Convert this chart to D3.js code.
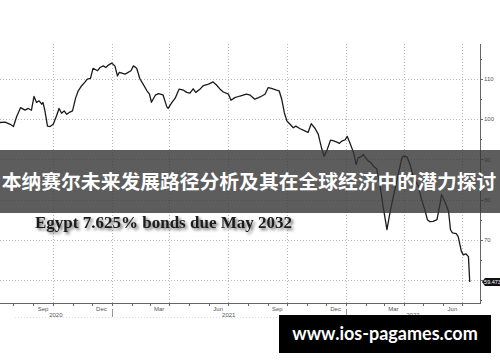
<!DOCTYPE html>
<html><head><meta charset="utf-8">
<script src="https://cdn.jsdelivr.net/npm/d3@7"></script>
<style>
html,body{margin:0;padding:0;background:#fff;}
svg{display:block;}
</style></head>
<body>
<svg id="chart" width="500" height="362"></svg>
<script>
const titleText = "Egypt 7.625% bonds due May 2032";
const bannerText = "本纳赛尔未来发展路径分析及其在全球经济中的潜力探讨";
const watermarkText = "www.ios-pagames.com";
const lastValueLabel = "59.473";

const dates = ["2020-07-11","2020-07-19","2020-07-27","2020-08-01","2020-08-06","2020-08-12","2020-08-19","2020-08-24","2020-08-29","2020-09-02","2020-09-06","2020-09-10","2020-09-14","2020-09-16","2020-09-19","2020-09-23","2020-09-27","2020-10-02","2020-10-07","2020-10-11","2020-10-15","2020-10-19","2020-10-23","2020-10-28","2020-11-01","2020-11-06","2020-11-10","2020-11-15","2020-11-20","2020-11-24","2020-11-29","2020-12-03","2020-12-10","2020-12-14","2020-12-19","2020-12-23","2020-12-27","2021-01-01","2021-01-06","2021-01-10","2021-01-13","2021-01-22","2021-01-31","2021-02-04","2021-02-09","2021-02-14","2021-02-19","2021-02-25","2021-03-01","2021-03-04","2021-03-10","2021-03-15","2021-03-22","2021-03-28","2021-03-30","2021-04-05","2021-04-10","2021-04-16","2021-04-23","2021-04-28","2021-05-03","2021-05-08","2021-05-12","2021-05-18","2021-05-24","2021-06-01","2021-06-08","2021-06-13","2021-06-19","2021-06-24","2021-07-02","2021-07-06","2021-07-12","2021-07-20","2021-07-30","2021-08-05","2021-08-12","2021-08-18","2021-08-23","2021-08-28","2021-09-02","2021-09-07","2021-09-15","2021-09-19","2021-09-23","2021-09-27","2021-10-01","2021-10-06","2021-10-11","2021-10-15","2021-10-21","2021-10-29","2021-11-03","2021-11-08","2021-11-14","2021-11-19","2021-11-24","2021-11-28","2021-12-03","2021-12-08","2021-12-13","2021-12-18","2021-12-22","2021-12-25","2021-12-31","2022-01-03","2022-01-07","2022-01-13","2022-01-17","2022-01-20","2022-01-26","2022-01-28","2022-02-01","2022-02-05","2022-02-09","2022-02-13","2022-02-18","2022-02-23","2022-02-28","2022-03-06","2022-03-11","2022-03-16","2022-03-21","2022-03-29","2022-03-31","2022-04-06","2022-04-11","2022-04-16","2022-04-24","2022-04-29","2022-05-04","2022-05-08","2022-05-12","2022-05-17","2022-05-23","2022-05-28","2022-05-30","2022-06-04","2022-06-10","2022-06-13","2022-06-16","2022-06-22","2022-06-25","2022-06-30","2022-07-03","2022-07-07","2022-07-11","2022-07-13"];
const prices = [99.2,99.3,98.75,98.2,100.7,102.9,102.3,102.7,102.25,105.7,104.2,104.6,103.75,104.2,102.1,98.3,98.2,98.75,100.8,102.7,101.5,102.1,101.25,101.8,102.1,105.4,107.1,108.3,109.2,110,110.2,112.7,112.1,112.9,113.3,112.9,113.5,114,113.3,110.8,111.7,111.25,112.1,113.3,112.7,110.1,108.75,107.1,106.25,104.25,106,106.4,106.1,103.1,102.7,104.2,105.25,107.5,107.25,106.7,106.5,107.6,106.7,107.4,108.4,108.75,109.3,108.6,107.5,106.8,106.25,104.75,105.4,105.8,106.25,106,105,105.4,105.8,106.25,107.9,107.7,107.25,107.1,105,101.7,99.6,98.75,97.9,98.3,97.7,97.1,96.7,98.9,97.7,96.25,92.9,90.75,92.5,94.8,94.6,94.3,94,94.5,94.9,95.75,94.2,91.7,88.75,90.4,90.8,91.25,90.4,89.6,89.2,88.3,87.7,83.75,78.3,72.5,77,80.8,84.2,90.25,90.8,90.7,88.75,85.8,83.3,80,77.5,75,74.5,74.6,75,79.2,81.25,79.6,77.1,72.5,71.7,71.5,70.8,67.1,66.25,66.5,65.8,59.473];

const yMajorTicks = [60,70,80,90,100,110];
const yMinorTicks = [55,65,75,85,95,105,115];
const monthLabels = ["Sep","Dec","Mar","Jun","Sep","Dec","Mar","Jun"];
const yearLabels = ["2020","2021","2022"];

const svg = d3.select("#chart");
const W = 500, H = 362;
const plot = {left:0, right:480, top:44, bottom:303};
const parse = d3.utcParse("%Y-%m-%d");
const data = dates.map((d,i)=>({date:parse(d), value:prices[i]}));

const x = d3.scaleUtc().domain([parse("2020-07-11"), parse("2022-07-29")]).range([plot.left, plot.right]);
const y = d3.scaleLinear().domain([54.25, 118.75]).range([plot.bottom, plot.top]);

// gridlines
const gridColor = "#b8b8b8";
const hg = svg.append("g");
hg.selectAll("line").data(yMajorTicks).join("line")
  .attr("x1", plot.left).attr("x2", plot.right)
  .attr("y1", d=>Math.round(y(d))+0.5).attr("y2", d=>Math.round(y(d))+0.5)
  .attr("stroke", gridColor).attr("stroke-width",1).attr("stroke-dasharray","1,2");
const quarterStarts = d3.utcMonth.range(parse("2020-07-11"), parse("2022-07-29")).filter(d=>d.getUTCMonth()%3===0);
hg.append("g").selectAll("line").data(quarterStarts).join("line")
  .attr("x1", d=>Math.round(x(d))+0.5).attr("x2", d=>Math.round(x(d))+0.5)
  .attr("y1", plot.top).attr("y2", plot.bottom)
  .attr("stroke", gridColor).attr("stroke-width",1).attr("stroke-dasharray","1,2");

// line
const line = d3.line().x(d=>x(d.date)).y(d=>y(d.value));
svg.append("path").datum(data).attr("d", line)
  .attr("fill","none").attr("stroke","#1a1a1a").attr("stroke-width",1.3).attr("stroke-linejoin","round");

// right axis
const axColor = "#666";
svg.append("line").attr("x1",plot.right+0.5).attr("x2",plot.right+0.5).attr("y1",plot.top).attr("y2",plot.bottom)
  .attr("stroke",axColor).attr("stroke-width",1);
const ra = svg.append("g").attr("transform",`translate(${plot.right},0)`);
ra.selectAll("line.maj").data(yMajorTicks).join("line").attr("class","maj")
  .attr("x1",0).attr("x2",3).attr("y1",d=>Math.round(y(d))+0.5).attr("y2",d=>Math.round(y(d))+0.5)
  .attr("stroke",axColor);
ra.selectAll("line.min").data(yMinorTicks).join("line").attr("class","min")
  .attr("x1",0).attr("x2",2).attr("y1",d=>Math.round(y(d))+0.5).attr("y2",d=>Math.round(y(d))+0.5)
  .attr("stroke",axColor);
ra.selectAll("text").data(yMajorTicks.filter(d=>d!==60)).join("text")
  .attr("x",4).attr("y",d=>y(d)).attr("dy","0.35em")
  .attr("font-family","Liberation Sans, Arial, sans-serif").attr("font-size",6).attr("fill","#555")
  .text(d=>d);

// last value label
const lv = prices[prices.length-1];
const lg = svg.append("g").attr("transform",`translate(${plot.right+2},${y(lv)})`);
lg.append("path").attr("d","M0,0 L3,-4 L18,-4 L18,4 L3,4 Z").attr("fill","#111");
lg.append("text").attr("x",10.5).attr("y",0).attr("dy","0.35em").attr("text-anchor","middle")
  .attr("font-family","Liberation Sans, Arial, sans-serif").attr("font-size",5.5).attr("fill","#fff").text(lastValueLabel);

// bottom axis
svg.append("line").attr("x1",plot.left).attr("x2",plot.right+1).attr("y1",plot.bottom+0.5).attr("y2",plot.bottom+0.5)
  .attr("stroke",axColor).attr("stroke-width",1);
const months = d3.utcMonth.range(parse("2020-07-11"), parse("2022-07-29"));
svg.append("g").selectAll("line").data(months).join("line")
  .attr("x1",d=>Math.round(x(d))+0.5).attr("x2",d=>Math.round(x(d))+0.5)
  .attr("y1",plot.bottom).attr("y2",plot.bottom+3).attr("stroke",axColor);
const labelMonths = months.filter(d=>d.getUTCMonth()%3===2);
svg.append("g").selectAll("text").data(labelMonths).join("text")
  .attr("x",d=>x(d3.utcDay.offset(d,15))).attr("y",plot.bottom+8)
  .attr("text-anchor","middle").attr("font-family","Liberation Sans, Arial, sans-serif")
  .attr("font-size",6).attr("fill","#555").text((d,i)=>monthLabels[i]);
const yearStarts = [parse("2021-01-01"), parse("2022-01-01")];
svg.append("g").selectAll("line").data(yearStarts).join("line")
  .attr("x1",d=>Math.round(x(d))+0.5).attr("x2",d=>Math.round(x(d))+0.5)
  .attr("y1",plot.bottom+6).attr("y2",plot.bottom+14).attr("stroke","#999");
const yearSpans = [[x.domain()[0], yearStarts[0]],[yearStarts[0], yearStarts[1]],[yearStarts[1], x.domain()[1]]];
svg.append("g").selectAll("text").data(yearSpans).join("text")
  .attr("x",d=>(x(d[0])+x(d[1]))/2).attr("y",plot.bottom+14)
  .attr("text-anchor","middle").attr("font-family","Liberation Sans, Arial, sans-serif")
  .attr("font-size",6).attr("fill","#555").text((d,i)=>yearLabels[i]);
svg.append("line").attr("x1",15).attr("x2",plot.right).attr("y1",plot.bottom+14.5).attr("y2",plot.bottom+14.5)
  .attr("stroke","#ddd").attr("stroke-dasharray","1,2");

// title with shadow
const defs = svg.append("defs");
const f = defs.append("filter").attr("id","sh").attr("x","-10%").attr("y","-50%").attr("width","120%").attr("height","200%");
f.append("feGaussianBlur").attr("in","SourceAlpha").attr("stdDeviation",1.6).attr("result","b");
f.append("feOffset").attr("in","b").attr("dx",1.5).attr("dy",2).attr("result","o");
f.append("feComponentTransfer").attr("in","o").attr("result","o2").append("feFuncA").attr("type","linear").attr("slope",0.6);
const fm = f.append("feMerge"); fm.append("feMergeNode").attr("in","o2"); fm.append("feMergeNode").attr("in","SourceGraphic");
svg.append("text").attr("x",35).attr("y",227.5).attr("filter","url(#sh)")
  .attr("font-family","Liberation Serif, Times New Roman, serif").attr("font-weight","bold")
  .attr("font-size",16).attr("fill","#1a1a1a").attr("textLength",257).attr("lengthAdjust","spacingAndGlyphs")
  .text(titleText);

// banner
svg.append("rect").attr("x",0).attr("y",150).attr("width",W).attr("height",63)
  .attr("fill","rgb(52,52,52)").attr("fill-opacity",0.8);
svg.append("text").attr("x",249).attr("y",182).attr("dy","0.36em").attr("text-anchor","middle")
  .attr("font-family","Noto Sans CJK SC, sans-serif").attr("font-weight","bold").attr("font-size",19.8)
  .attr("fill","#fff").text(bannerText);

// watermark
svg.append("rect").attr("x",279).attr("y",315).attr("width",212).attr("height",38).attr("fill","#000");
svg.append("text").attr("x",385).attr("y",334).attr("dy","0.36em").attr("text-anchor","middle")
  .attr("font-family","Lato, sans-serif").attr("font-weight","bold").attr("font-size",18)
  .attr("fill","#fff").text(watermarkText);
</script>
</body></html>
